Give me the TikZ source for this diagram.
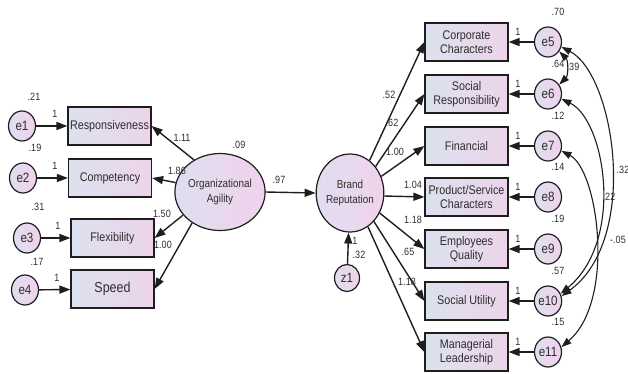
\documentclass[tikz,border=0pt]{standalone}
\usepackage{fontspec}
\setmainfont{Liberation Sans}
\newfontfamily\narrowsans{Liberation Sans}[FakeStretch=0.86]
\usetikzlibrary{shapes.geometric,arrows.meta}
\definecolor{ink}{HTML}{1E1E1E}
\definecolor{txt}{HTML}{2E2E2E}
\definecolor{boxL}{HTML}{DCE1EE}
\definecolor{boxR}{HTML}{EDD4EA}
\definecolor{cirL}{HTML}{E0DEF0}
\definecolor{cirR}{HTML}{F0D2EC}
\begin{document}
\begin{tikzpicture}[x=1pt,y=-1pt,
  obs/.style={rectangle, draw=ink, line width=1.2pt, left color=boxL, right color=boxR,
    minimum width=83pt, minimum height=38pt, inner sep=1pt, align=center,
    font=\narrowsans\fontsize{12.5}{14}\selectfont, text=txt},
  err/.style={ellipse, draw=ink, line width=1.2pt, left color=cirL, right color=cirR,
    minimum width=27pt, minimum height=30pt, inner sep=0pt,
    font=\narrowsans\fontsize{13.5}{14}\selectfont, text=txt},
  lat/.style={ellipse, draw=ink, line width=1.2pt, left color=cirL, right color=cirR,
    minimum width=65pt, minimum height=77pt, inner sep=0pt, align=center,
    font=\narrowsans\fontsize{11.5}{15}\selectfont, text=txt},
  conn/.style={draw=ink, line width=1.4pt, -{Triangle[length=11pt,width=8pt]}},
  cov/.style={draw=ink, line width=1.1pt,
    {Triangle[length=10pt,width=7pt]}-{Triangle[length=10pt,width=7pt]}},
  lbl/.style={font=\narrowsans\fontsize{10.5}{11}\selectfont, text=txt, inner sep=0pt}
]
\useasboundingbox (0,0) rectangle (628,373);

% ---- organizational agility block ----
\node[lat] (org) at (220,192) {Organizational\\Agility};
\node[obs] (resp)  at (109.5,126) {Responsiveness};
\node[obs] (comp)  at (110,178)   {Competency};
\node[obs] (flex)  at (112.5,238) {Flexibility};
\node[obs, font=\narrowsans\fontsize{14.5}{16}\selectfont] (speed) at (112.5,289) {Speed};
\node[err] (e1) at (22,126) {e1};
\node[err] (e2) at (23,178) {e2};
\node[err] (e3) at (27,238) {e3};
\node[err] (e4) at (25,290) {e4};

\foreach \e/\b in {e1/resp,e2/comp,e3/flex,e4/speed}
  \draw[conn] (\e) -- (\b);
\draw[conn] (org.129) -- (resp.east);
\draw[conn] (org.168) -- (comp.east);
\draw[conn] (org.212) -- (flex.east);
\draw[conn] (org.228) -- (speed.east);

\node[lbl] (l1a) at (55,114) {1};
\node[lbl] (l1b) at (55,166) {1};
\node[lbl] (l1c) at (58,226) {1};
\node[lbl] (l1d) at (57,278) {1};
\node[lbl] (v1) at (34,97)  {.21};
\node[lbl] (v2) at (35,148) {.19};
\node[lbl] (v3) at (38,207) {.31};
\node[lbl] (v4) at (37,262) {.17};
\node[lbl] (w1) at (182,138) {1.11};
\node[lbl] (w2) at (177,171) {1.86};
\node[lbl] (w3) at (162,214) {1.50};
\node[lbl] (w4) at (163,245) {1.00};
\node[lbl] (v0) at (239,145) {.09};

% ---- brand reputation block ----
\node[lat, minimum height=78pt] (brand) at (350,193) {Brand\\Reputation};
\node[err, minimum width=25pt, minimum height=27pt] (z1) at (347,278) {z1};
\draw[conn] (org.east) -- (brand.west);
\draw[conn] (z1) -- (brand);
\node[lbl] (wob) at (279,180) {.97};
\node[lbl] (lz) at (355,241) {1};
\node[lbl] (vz) at (359,255) {.32};

\node[obs] (corp) at (466.5,42)  {Corporate\\Characters};
\node[obs] (soc)  at (466.5,94)  {Social\\Responsibility};
\node[obs] (fin)  at (466.5,146) {Financial};
\node[obs] (prod) at (466.5,197) {Product/Service\\Characters};
\node[obs] (emp)  at (466.5,249) {Employees\\Quality};
\node[obs] (util) at (466.5,301) {Social Utility};
\node[obs] (mgr)  at (466.5,352) {Managerial\\Leadership};

\draw[conn] (brand.59)  -- (corp.west);
\draw[conn] (brand.46)  -- (soc.west);
\draw[conn] (brand.28)  -- (fin.west);
\draw[conn] (brand.-5)  -- (prod.west);
\draw[conn] (brand.-34) -- (emp.west);
\draw[conn] (brand.-50) -- (util.west);
\draw[conn] (brand.-62) -- (mgr.west);

\node[lbl] (r1) at (389,95)  {.52};
\node[lbl] (r2) at (392,123) {.62};
\node[lbl] (r3) at (395,152) {1.00};
\node[lbl] (r4) at (413,185) {1.04};
\node[lbl] (r5) at (413,220) {1.18};
\node[lbl] (r6) at (408,252) {.65};
\node[lbl] (r7) at (407,282) {1.18};

\foreach \n/\y/\b/\v in {5/42/corp/.70, 6/94/soc/.64, 7/146/fin/.12, 8/197/prod/.14,
                         9/249/emp/.19, 10/301/util/.57, 11/352/mgr/.15}{
  \node[err] (e\n) at (548,\y) {e\n};
  \draw[conn] (e\n) -- (\b);
  \node[lbl] (one\n) at (518,\y-10) {1};
  \node[lbl] (var\n) at (558,\y-30) {\v};
}

% ---- error covariances ----
\draw[cov] (e5.-40) to[bend left=45] (e6.40);
\draw[cov] (e5.-20) .. controls (615,75) and (640,240) .. (e10.20);
\draw[cov] (e6.-20) .. controls (605,120) and (625,240) .. (e10.30);
\draw[cov] (e7.-20) .. controls (598,170) and (616,300) .. (e11.20);
\node[lbl] (c1) at (573,67)  {.39};
\node[lbl] (c2) at (623,170) {.32};
\node[lbl] (c3) at (609,197) {.22};
\node[lbl] (c4) at (618,240) {-.05};
\end{tikzpicture}
\end{document}
